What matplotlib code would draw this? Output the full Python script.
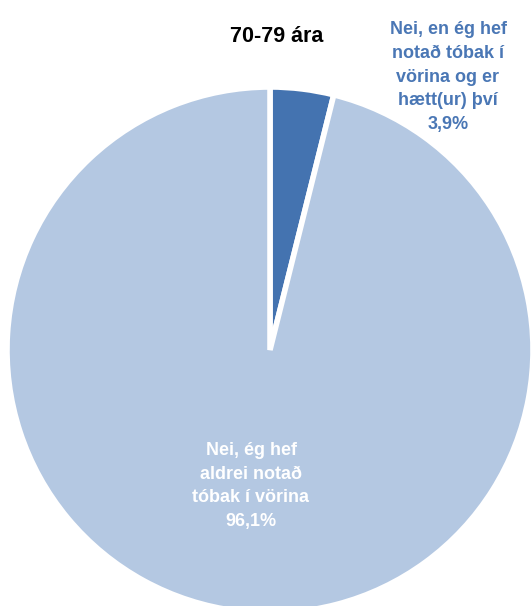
import matplotlib.pyplot as plt

labels = ['Nei, en ég hef\nnotað tóbak í\nvörina og er\nhætt(ur) því', 'Nei, ég hef\naldrei notað\ntóbak í vörina']
values = [3.9, 96.1]
colors = ['#4473B0', '#B4C8E2']
title = '70-79 ára'

W, H = 532, 606
fig = plt.figure(figsize=(W / 100, H / 100), dpi=100)
cx, cy, r = 270, 350, 263
ax = fig.add_axes([(cx - r) / W, (H - cy - r) / H, 2 * r / W, 2 * r / H])
ax.pie(values, colors=colors, startangle=90, counterclock=False, radius=1,
       wedgeprops=dict(edgecolor='white', linewidth=4))
ax.set_xlim(-1, 1)
ax.set_ylim(-1, 1)
ax.set_aspect('equal')
ax.axis('off')

font = ['Liberation Sans Narrow', 'Liberation Sans', 'DejaVu Sans']

fig.text(277 / W, 1 - 36 / H, title, ha='center', va='center',
         fontsize=15.5, fontweight='bold', family=font, color='black')

fig.text(448 / W, 1 - 77 / H, f'{labels[0]}\n{values[0]:.1f}%'.replace('.', ','),
         ha='center', va='center', fontsize=13, fontweight='bold',
         family=font, color='#4A77B5', linespacing=1.5)

fig.text(251 / W, 1 - 486 / H, f'{labels[1]}\n{values[1]:.1f}%'.replace('.', ','),
         ha='center', va='center', fontsize=13, fontweight='bold',
         family=font, color='white', linespacing=1.5)

fig.savefig('out.png', dpi=100)
